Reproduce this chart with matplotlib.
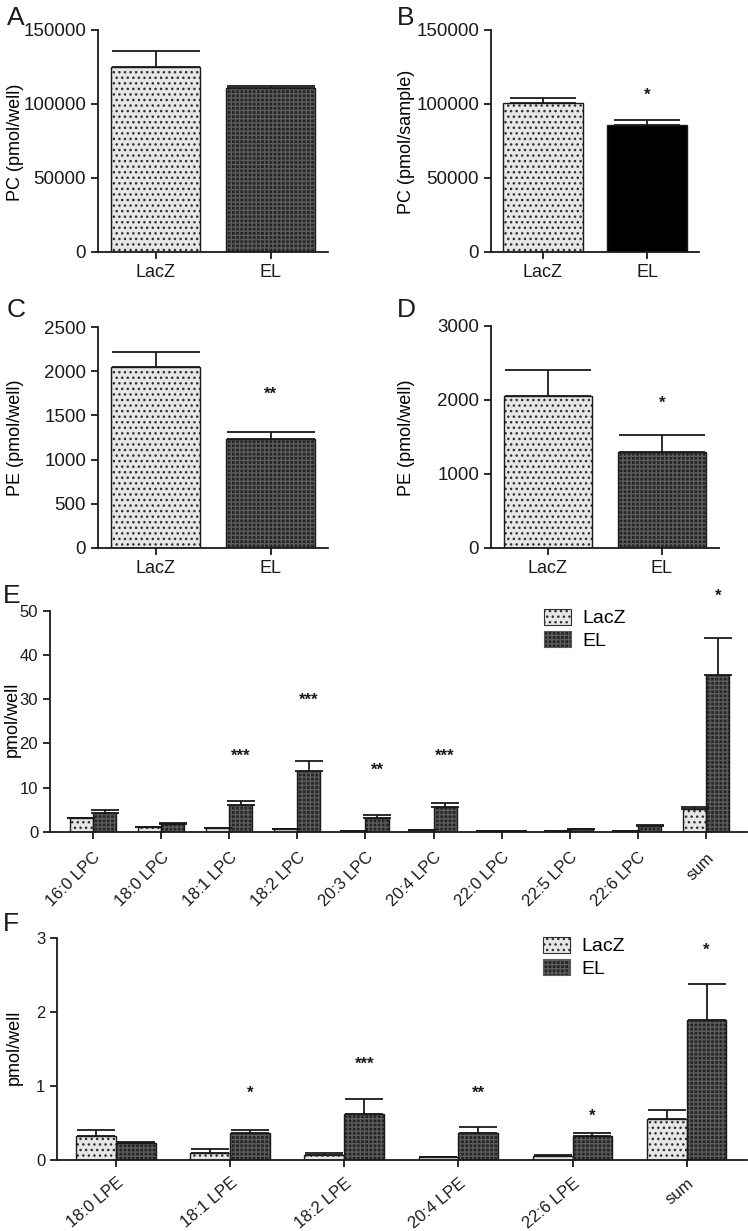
import matplotlib
matplotlib.use('Agg')
import matplotlib.pyplot as plt
import matplotlib.patches as mpatches

plt.rcParams['font.family'] = ['Liberation Sans', 'DejaVu Sans']
plt.rcParams['hatch.linewidth'] = 1.0

W, H = 748, 1231

# ---------------- data ----------------
groups = ['LacZ', 'EL']

pc_well = [125000, 110500]
pc_well_err = [11000, 1600]

pc_sample = [100500, 86000]
pc_sample_err = [3700, 3500]
pc_sample_sig = ['', '*']
pc_sample_sig_y = [None, 106000]

pe_well_c = [2051, 1237]
pe_well_c_err = [166, 71]
pe_well_c_sig = ['', '**']
pe_well_c_sig_y = [None, 1738]

pe_well_d = [2057, 1299]
pe_well_d_err = [343, 226]
pe_well_d_sig = ['', '*']
pe_well_d_sig_y = [None, 1953]

lpc_species = ['16:0 LPC', '18:0 LPC', '18:1 LPC', '18:2 LPC', '20:3 LPC',
               '20:4 LPC', '22:0 LPC', '22:5 LPC', '22:6 LPC', 'sum']
lpc_lacz = [3.0, 1.05, 0.75, 0.5, 0.15, 0.3, 0.05, 0.05, 0.05, 5.1]
lpc_lacz_err = [0.2, 0.05, 0.05, 0.05, 0.02, 0.03, 0.01, 0.01, 0.01, 0.4]
lpc_el = [4.15, 1.66, 5.95, 13.7, 3.0, 5.6, 0.2, 0.6, 1.35, 35.4]
lpc_el_err = [0.75, 0.25, 0.95, 2.2, 0.85, 1.0, 0.05, 0.05, 0.1, 8.4]
lpc_sig = ['', '', '***', '***', '**', '***', '', '', '', '*']
lpc_sig_y = [None, None, 17.0, 29.7, 13.8, 17.1, None, None, None, 53.2]

lpe_species = ['18:0 LPE', '18:1 LPE', '18:2 LPE', '20:4 LPE', '22:6 LPE', 'sum']
lpe_lacz = [0.33, 0.10, 0.063, 0.036, 0.05, 0.55]
lpe_lacz_err = [0.07, 0.05, 0.027, 0.005, 0.013, 0.12]
lpe_el = [0.225, 0.36, 0.62, 0.365, 0.325, 1.89]
lpe_el_err = [0.025, 0.04, 0.20, 0.085, 0.045, 0.49]
lpe_sig = ['', '*', '***', '**', '*', '*']
lpe_sig_y = [None, 0.90, 1.29, 0.90, 0.59, 2.84]

# ---------------- styles ----------------
LACZ = dict(face='#e6e6e6', hatch='...', hcol='#303030')
ELS = dict(face='#262626', hatch='++++', hcol='#5c5c5c')
SOLID = dict(face='#000000', hatch=None, hcol='#000000')
LW = 1.3


def px_axes(x0, x1, ytop, ybot):
    return [x0 / W, 1 - ybot / H, (x1 - x0) / W, (ybot - ytop) / H]


def draw_bars(ax, x, h, err, width, st, capsize):
    ax.bar(x, h, width=width, color=st['face'], hatch=st['hatch'],
           edgecolor=st['hcol'], linewidth=0, zorder=2)
    ax.bar(x, h, width=width, fill=False, edgecolor='#1a1a1a',
           linewidth=1.0, zorder=3)
    ax.errorbar(x, h, yerr=[[0] * len(h), err], fmt='none', ecolor='#1a1a1a',
                elinewidth=LW, capsize=capsize, capthick=LW, zorder=4)


def style_axes(ax, fs=13, yfs=13.5):
    for s in ['top', 'right']:
        ax.spines[s].set_visible(False)
    for s in ['left', 'bottom']:
        ax.spines[s].set_linewidth(LW)
        ax.spines[s].set_color('#1a1a1a')
    ax.tick_params(direction='out', length=5, width=LW, labelsize=fs,
                   colors='#1a1a1a')
    ax.tick_params(axis='y', labelsize=yfs)


def set_ylabel(ax, text, xc, yc, fs=13):
    ax.set_ylabel(text, fontsize=fs, va='center')
    ax.yaxis.set_label_coords(xc / W, 1 - yc / H, transform=fig.transFigure)


def stars(ax, xs, sig, sig_y, fs=12):
    for x, s, y in zip(xs, sig, sig_y):
        if s:
            ax.text(x, y, s, ha='center', va='center', fontsize=fs,
                    fontweight='bold', color='#1a1a1a')


fig = plt.figure(figsize=(W / 100, H / 100), dpi=100)

# ---------------- A-D ----------------
pos = [0, 1]
small_panels = [
    ('A', px_axes(98, 328, 30, 252), pc_well, pc_well_err, ELS, 'PC (pmol/well)',
     (0, 150000), [0, 50000, 100000, 150000], None, None, 32, (7, 6), (16, 142)),
    ('B', px_axes(491, 699, 30, 252), pc_sample, pc_sample_err, SOLID, 'PC (pmol/sample)',
     (0, 150000), [0, 50000, 100000, 150000], pc_sample_sig, pc_sample_sig_y, 24, (397, 6), (407, 142)),
    ('C', px_axes(98, 328, 327, 548), pe_well_c, pe_well_c_err, ELS, 'PE (pmol/well)',
     (0, 2500), [0, 500, 1000, 1500, 2000, 2500], pe_well_c_sig, pe_well_c_sig_y, 32, (7, 298), (16, 438)),
    ('D', px_axes(491, 719, 326, 548), pe_well_d, pe_well_d_err, ELS, 'PE (pmol/well)',
     (0, 3000), [0, 1000, 2000, 3000], pe_well_d_sig, pe_well_d_sig_y, 31, (397, 298), (407, 438)),
]

for (letter, rect, vals, errs, elstyle, ylab, ylim, yticks, sig, sig_y,
     cap, lpos, ylpos) in small_panels:
    ax = fig.add_axes(rect)
    draw_bars(ax, [pos[0]], [vals[0]], [errs[0]], 0.77, LACZ, cap)
    draw_bars(ax, [pos[1]], [vals[1]], [errs[1]], 0.77, elstyle, cap)
    ax.set_xlim(-0.5, 1.5)
    ax.set_ylim(*ylim)
    ax.set_yticks(yticks)
    ax.set_xticks(pos)
    ax.set_xticklabels(groups)
    style_axes(ax)
    set_ylabel(ax, ylab, *ylpos)
    if sig:
        stars(ax, pos, sig, sig_y)
    fig.text(lpos[0] / W, 1 - lpos[1] / H, letter, fontsize=19,
             ha='left', va='top', color='#1a1a1a')


# ---------------- E, F ----------------
def grouped(ax, cats, lz, lz_err, el, el_err, width, cap, sig, sig_y, rot, lfs):
    xs = list(range(len(cats)))
    draw_bars(ax, [x - width / 2 for x in xs], lz, lz_err, width, LACZ, cap)
    draw_bars(ax, [x + width / 2 for x in xs], el, el_err, width, ELS, cap)
    ax.set_xticks(xs)
    ax.set_xticklabels(cats, rotation=rot, ha='right', va='top',
                       rotation_mode='anchor', fontsize=lfs)
    stars(ax, [x + width / 2 for x in xs], sig, sig_y)
    handles = [mpatches.Patch(facecolor=LACZ['face'], hatch=LACZ['hatch'],
                              edgecolor=LACZ['hcol'], linewidth=0.8, label='LacZ'),
               mpatches.Patch(facecolor=ELS['face'], hatch=ELS['hatch'],
                              edgecolor=ELS['hcol'], linewidth=0.8, label='EL')]
    return handles


axE = fig.add_axes(px_axes(50, 747, 610.7, 831.7))
hE = grouped(axE, lpc_species, lpc_lacz, lpc_lacz_err, lpc_el, lpc_el_err,
             0.34, 10, lpc_sig, lpc_sig_y, 45, 12)
axE.set_xlim(-0.63, 9.6)
axE.set_ylim(0, 50)
axE.set_yticks([0, 10, 20, 30, 40, 50])
style_axes(axE, fs=12, yfs=12)
axE.tick_params(axis='x', pad=8)
set_ylabel(axE, 'pmol/well', 12, 719)
axE.legend(handles=hE, loc='upper left', bbox_to_anchor=(544 / W, 1 - 609 / H),
           bbox_transform=fig.transFigure, frameon=False, fontsize=14,
           handlelength=1.4, handleheight=0.85, handletextpad=0.55,
           labelspacing=0.2, borderpad=0, borderaxespad=0)
fig.text(3 / W, 1 - 584 / H, 'E', fontsize=19, ha='left', va='top', color='#1a1a1a')

axF = fig.add_axes(px_axes(57, 747, 938, 1160))
hF = grouped(axF, lpe_species, lpe_lacz, lpe_lacz_err, lpe_el, lpe_el_err,
             0.35, 14, lpe_sig, lpe_sig_y, 40, 12)
axF.set_xlim(-0.52, 5.53)
axF.set_ylim(0, 3)
axF.set_yticks([0, 1, 2, 3])
style_axes(axF, fs=12, yfs=12)
axF.tick_params(axis='x', pad=6)
set_ylabel(axF, 'pmol/well', 14, 1047)
axF.legend(handles=hF, loc='upper left', bbox_to_anchor=(543 / W, 1 - 937 / H),
           bbox_transform=fig.transFigure, frameon=False, fontsize=14,
           handlelength=1.4, handleheight=0.85, handletextpad=0.55,
           labelspacing=0.2, borderpad=0, borderaxespad=0)
fig.text(3 / W, 1 - 912 / H, 'F', fontsize=19, ha='left', va='top', color='#1a1a1a')

fig.savefig('out.png', dpi=100, facecolor='white')
